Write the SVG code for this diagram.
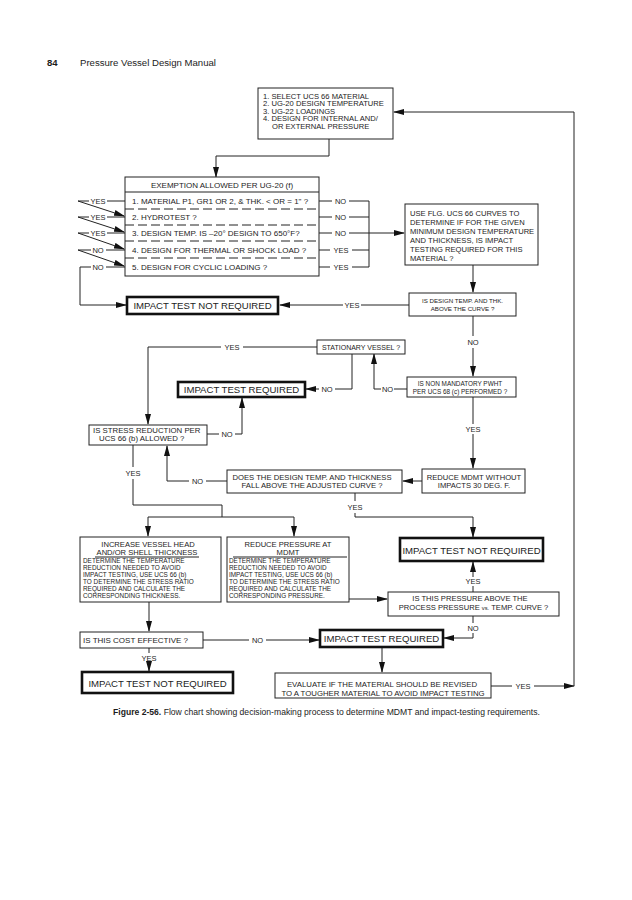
<svg xmlns="http://www.w3.org/2000/svg" width="632" height="900" viewBox="0 0 632 900">
<style>
.ln{stroke:#222;stroke-width:1;fill:none}
.ar{stroke:#222;stroke-width:1;fill:none;marker-end:url(#ah)}
.box{fill:#fff;stroke:#222;stroke-width:1}
.tb{fill:#fff;stroke:#111;stroke-width:2.6}
.dash{stroke:#222;stroke-width:1;stroke-dasharray:9,4}
text{font-family:"Liberation Sans",Arial,Helvetica,sans-serif;fill:#1c1c1c}
.t{font-size:7.6px}
.m{font-size:8px}
.s{font-size:6.4px}
.h{font-size:7.6px}
.l{font-size:7.5px}
.big{font-size:9.6px}
.c{text-anchor:middle}
</style>
<defs>
<marker id="ah" markerUnits="userSpaceOnUse" markerWidth="11" markerHeight="6" refX="10" refY="3" orient="auto">
<path d="M0,0 L11,3 L0,6 z" fill="#111"/>
</marker>
</defs>
<rect width="632" height="900" fill="#fff"/>

<g id="page-header">
<text x="47" y="66" style="font-size:9.5px;font-weight:bold">84</text>
<text x="80" y="66" style="font-size:9.6px">Pressure Vessel Design Manual</text>
</g>

<g id="connectors">
<path class="ar" d="M329,139 V156 H216 V177"/>
<path class="ln" d="M125,201 H107 M89,201 H78"/>
<path class="ar" d="M78,201 L124,216"/>
<path class="ln" d="M125,217 H107 M89,217 H78"/>
<path class="ar" d="M78,217 L124,232"/>
<path class="ln" d="M125,233 H107 M89,233 H78"/>
<path class="ar" d="M78,233 L124,249"/>
<path class="ln" d="M125,250 H106 M91,250 H78"/>
<path class="ar" d="M78,250 L124,266"/>
<path class="ln" d="M125,267 H106 M91,267 H80"/>
<path class="ar" d="M80,267 V305 H126"/>
<path class="ln" d="M319,201 H332 M349,201 H369"/>
<path class="ln" d="M319,217 H332 M349,217 H369"/>
<path class="ln" d="M319,233 H332 M349,233 H369"/>
<path class="ln" d="M319,250 H330 M352,250 H369"/>
<path class="ln" d="M319,267 H330 M352,267 H369"/>
<path class="ln" d="M369,201 V267"/>
<path class="ar" d="M369,233 H404"/>
<path class="ar" d="M473,265 V292"/>
<path class="ln" d="M409,305 H361"/>
<path class="ar" d="M343,305 H280"/>
<path class="ln" d="M473,316 V336"/>
<path class="ar" d="M473,348 V376"/>
<path class="ln" d="M407,389 H394 M381,389 H374"/>
<path class="ar" d="M374,389 V354"/>
<path class="ln" d="M352,353 V389 H335"/>
<path class="ar" d="M319,389 H306"/>
<path class="ln" d="M317,347 H243 M221,347 H148"/>
<path class="ar" d="M148,347 V424"/>
<path class="ln" d="M207,434 H219 M235,434 H242"/>
<path class="ar" d="M242,434 V398"/>
<path class="ln" d="M473,397 V424"/>
<path class="ar" d="M473,434 V468"/>
<path class="ar" d="M422,481 H403"/>
<path class="ln" d="M227,481 H206 M189,481 H167"/>
<path class="ar" d="M167,481 V446"/>
<path class="ln" d="M133,445 V467 M133,479 V505 H222 V517 M148,517 H294"/>
<path class="ar" d="M148,517 V536"/>
<path class="ar" d="M294,517 V536"/>
<path class="ln" d="M355,493 V501 M355,513 V517 H473"/>
<path class="ar" d="M473,517 V537"/>
<path class="ar" d="M349,599 H387"/>
<path class="ln" d="M473,592 V586"/>
<path class="ar" d="M473,577 V562"/>
<path class="ln" d="M473,616 V623 M473,633 V638"/>
<path class="ar" d="M473,638 H444"/>
<path class="ar" d="M149,602 V631"/>
<path class="ln" d="M203,640 H249 M266,640 H275"/>
<path class="ar" d="M275,640 H319"/>
<path class="ln" d="M149,648 V653"/>
<path class="ar" d="M149,663 V671"/>
<path class="ar" d="M382,647 V672"/>
<path class="ln" d="M491,686 H512 M534,686 H548"/>
<path class="ar" d="M548,686 H574"/>
<path class="ar" d="M574,686 V112 H394"/>
</g>

<g id="n-start">
<rect class="box" x="258" y="88" width="135" height="51"/>
<text class="t" x="263" y="98.5">1. SELECT UCS 66 MATERIAL</text>
<text class="t" x="263" y="106">2. UG-20 DESIGN TEMPERATURE</text>
<text class="t" x="263" y="113.5">3. UG-22 LOADINGS</text>
<text class="t" x="263" y="121">4. DESIGN FOR INTERNAL AND/</text>
<text class="t" x="272" y="128.5">OR EXTERNAL PRESSURE</text>
</g>

<g id="n-exemption">
<rect class="box" x="125" y="177" width="194" height="99"/>
<line class="ln" x1="125" y1="192" x2="319" y2="192"/>
<text class="m c" x="222" y="188">EXEMPTION ALLOWED PER UG-20 (f)</text>
<line class="dash" x1="125" y1="209" x2="319" y2="209"/>
<line class="dash" x1="125" y1="225" x2="319" y2="225"/>
<line class="dash" x1="125" y1="241" x2="319" y2="241"/>
<line class="dash" x1="125" y1="258" x2="319" y2="258"/>
<text class="m" x="132" y="204">1. MATERIAL P1, GR1 OR 2, &amp; THK. &lt; OR = 1" ?</text>
<text class="m" x="132" y="220">2. HYDROTEST ?</text>
<text class="m" x="132" y="236">3. DESIGN TEMP. IS –20° DESIGN TO 650°F?</text>
<text class="m" x="132" y="253">4. DESIGN FOR THERMAL OR SHOCK LOAD ?</text>
<text class="m" x="132" y="270">5. DESIGN FOR CYCLIC LOADING ?</text>
</g>

<g id="labels">
<text class="l c" x="98" y="203.5">YES</text>
<text class="l c" x="98" y="219.5">YES</text>
<text class="l c" x="98" y="235.5">YES</text>
<text class="l c" x="98" y="252.5">NO</text>
<text class="l c" x="98" y="269.5">NO</text>
<text class="l c" x="340.5" y="203.5">NO</text>
<text class="l c" x="340.5" y="219.5">NO</text>
<text class="l c" x="340.5" y="235.5">NO</text>
<text class="l c" x="341" y="252.5">YES</text>
<text class="l c" x="341" y="269.5">YES</text>
<text class="l c" x="352" y="307.5">YES</text>
<text class="l c" x="473" y="344.5">NO</text>
<text class="l c" x="232" y="349.5">YES</text>
<text class="l c" x="327" y="391.5">NO</text>
<text class="l c" x="387.5" y="391.5">NO</text>
<text class="l c" x="227" y="436.5">NO</text>
<text class="l c" x="473" y="431.5">YES</text>
<text class="l c" x="197.5" y="483.5">NO</text>
<text class="l c" x="133" y="475.5">YES</text>
<text class="l c" x="355" y="509.5">YES</text>
<text class="l c" x="473" y="583.5">YES</text>
<text class="l c" x="473" y="630.5">NO</text>
<text class="l c" x="257.5" y="642.5">NO</text>
<text class="l c" x="149" y="660.5">YES</text>
<text class="l c" x="523" y="688.5">YES</text>
</g>

<g id="n-flg">
<rect class="box" x="405" y="204" width="133" height="61"/>
<text class="t" x="410" y="215.5">USE FLG. UCS 66 CURVES TO</text>
<text class="t" x="410" y="224.5">DETERMINE IF FOR  THE GIVEN</text>
<text class="t" x="410" y="233.5">MINIMUM DESIGN TEMPERATURE</text>
<text class="t" x="410" y="242.5">AND THICKNESS, IS IMPACT</text>
<text class="t" x="410" y="251.5">TESTING REQUIRED FOR THIS</text>
<text class="t" x="410" y="260.5">MATERIAL ?</text>
</g>

<g id="n-notreq1">
<rect class="tb" x="127" y="297" width="151" height="17"/>
<text class="big c" x="202.5" y="309">IMPACT TEST NOT REQUIRED</text>
</g>

<g id="n-abovecurve">
<rect class="box" x="409" y="293" width="107" height="23"/>
<text class="c" style="font-size:6.2px" x="462.5" y="303">IS DESIGN TEMP. AND THK.</text>
<text class="c" style="font-size:6.2px" x="462.5" y="310.5">ABOVE THE CURVE ?</text>
</g>

<g id="n-stationary">
<rect class="box" x="317" y="340" width="88" height="14"/>
<text class="c" style="font-size:7px" x="361" y="349.5">STATIONARY VESSEL ?</text>
</g>

<g id="n-req1">
<rect class="tb" x="178" y="382" width="127" height="15"/>
<text class="big c" x="241.5" y="393">IMPACT TEST REQUIRED</text>
</g>

<g id="n-pwht">
<rect class="box" x="407" y="377" width="109" height="20"/>
<text class="c" style="font-size:6.4px" x="460" y="386">IS NON MANDATORY PWHT</text>
<text class="c" style="font-size:6.4px" x="460" y="393.5">PER UCS 68 (c) PERFORMED ?</text>
</g>

<g id="n-stress">
<rect class="box" x="89" y="425" width="118" height="20"/>
<text class="t" style="font-size:7.8px" x="93" y="433">IS STRESS REDUCTION PER</text>
<text class="t" style="font-size:7.8px" x="99" y="441">UCS 66 (b) ALLOWED ?</text>
</g>

<g id="n-does">
<rect class="box" x="227" y="470" width="175" height="23"/>
<text class="c" style="font-size:7.7px" x="312" y="479.5">DOES THE DESIGN TEMP. AND THICKNESS</text>
<text class="c" style="font-size:7.7px" x="312" y="488">FALL ABOVE THE ADJUSTED CURVE ?</text>
</g>

<g id="n-reducemdmt">
<rect class="box" x="422" y="469" width="103" height="24"/>
<text class="t c" x="474" y="479.5">REDUCE MDMT WITHOUT</text>
<text class="t c" x="474" y="488">IMPACTS 30 DEG. F.</text>
</g>

<g id="n-increase">
<rect class="box" x="80" y="537" width="141" height="65"/>
<text class="h c" x="148" y="546.5">INCREASE VESSEL HEAD</text>
<text class="h c" x="147" y="555">AND/OR SHELL THICKNESS</text>
<line class="ln" x1="95" y1="557" x2="199" y2="557"/>
<text class="s" x="83" y="563">DETERMINE THE TEMPERATURE</text>
<text class="s" x="83" y="570">REDUCTION NEEDED TO AVOID</text>
<text class="s" x="83" y="577">IMPACT TESTING, USE UCS 66 (b)</text>
<text class="s" x="83" y="584">TO DETERMINE THE STRESS RATIO</text>
<text class="s" x="83" y="591">REQUIRED AND CALCULATE THE</text>
<text class="s" x="83" y="598">CORRESPONDING THICKNESS.</text>
</g>

<g id="n-reducepressure">
<rect class="box" x="227" y="537" width="122" height="65"/>
<text class="h c" x="288" y="546.5">REDUCE PRESSURE AT</text>
<text class="h c" x="288" y="555">MDMT</text>
<line class="ln" x1="233" y1="557" x2="347" y2="557"/>
<text class="s" x="229" y="563">DETERMINE THE TEMPERATURE</text>
<text class="s" x="229" y="570">REDUCTION NEEDED TO AVOID</text>
<text class="s" x="229" y="577">IMPACT TESTING, USE UCS 66 (b)</text>
<text class="s" x="229" y="584">TO DETERMINE THE STRESS RATIO</text>
<text class="s" x="229" y="591">REQUIRED AND CALCULATE THE</text>
<text class="s" x="229" y="598">CORRESPONDING PRESSURE.</text>
</g>

<g id="n-notreq2">
<rect class="tb" x="400" y="538" width="143" height="23"/>
<text class="big c" x="471.5" y="553.5">IMPACT TEST NOT REQUIRED</text>
</g>

<g id="n-pressure">
<rect class="box" x="388" y="592" width="171" height="24"/>
<text class="t c" x="470" y="601">IS THIS PRESSURE ABOVE THE</text>
<text class="t c" x="473.5" y="610">PROCESS PRESSURE <tspan style="font-size:5.8px">vs.</tspan> TEMP. CURVE ?</text>
</g>

<g id="n-cost">
<rect class="box" x="80" y="632" width="123" height="16"/>
<text class="m" x="83" y="643">IS THIS COST EFFECTIVE ?</text>
</g>

<g id="n-req2">
<rect class="tb" x="320" y="630" width="123" height="17"/>
<text class="big c" x="381.5" y="642">IMPACT TEST REQUIRED</text>
</g>

<g id="n-notreq3">
<rect class="tb" x="82" y="672" width="151" height="21"/>
<text class="big c" x="157.5" y="686.5">IMPACT TEST NOT REQUIRED</text>
</g>

<g id="n-evaluate">
<rect class="box" x="275" y="673" width="216" height="25"/>
<text class="c" style="font-size:7.8px" x="382" y="686.5">EVALUATE IF THE MATERIAL SHOULD BE REVISED</text>
<text class="c" style="font-size:7.8px" x="383" y="695.5">TO A TOUGHER MATERIAL TO AVOID IMPACT TESTING</text>
</g>

<g id="caption">
<text x="113" y="715" style="font-size:8.6px"><tspan style="font-weight:bold">Figure 2-56.</tspan> Flow chart showing decision-making process to determine MDMT and impact-testing requirements.</text>
</g>
</svg>
